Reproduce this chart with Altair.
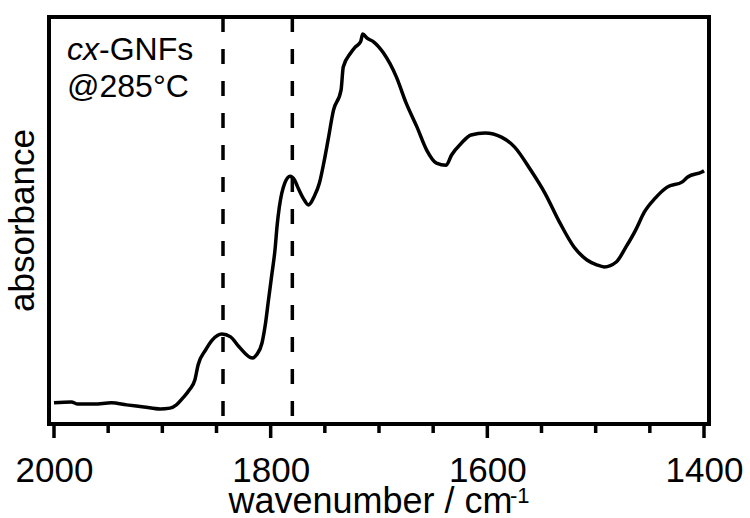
import altair as alt
import pandas as pd

# ---- data ----
wavenumber = [2000, 1984, 1978, 1963, 1947, 1933, 1917, 1902, 1893, 1887, 1881, 1875,
              1870, 1867, 1860, 1854, 1845, 1837, 1829, 1817, 1813, 1808, 1805, 1802,
              1799, 1796, 1794, 1792, 1787, 1782, 1778, 1775, 1770, 1765, 1763, 1760,
              1755, 1751, 1747, 1742, 1735, 1733, 1726, 1722, 1717, 1715, 1711, 1705,
              1696, 1684, 1675, 1665, 1656, 1647, 1638, 1633, 1624, 1615, 1602, 1587,
              1575, 1560, 1547, 1533, 1520, 1508, 1499, 1492, 1481, 1472, 1463, 1455,
              1445, 1434, 1420, 1415, 1402, 1400]
absorbance = [0.052, 0.054, 0.049, 0.049, 0.052, 0.047, 0.042, 0.037, 0.039, 0.047, 0.064, 0.084,
              0.108, 0.145, 0.182, 0.206, 0.221, 0.214, 0.189, 0.162, 0.170, 0.199, 0.243, 0.305,
              0.366, 0.428, 0.489, 0.533, 0.592, 0.609, 0.600, 0.582, 0.555, 0.538, 0.543, 0.558,
              0.592, 0.641, 0.698, 0.771, 0.821, 0.877, 0.912, 0.926, 0.939, 0.958, 0.948, 0.939,
              0.912, 0.853, 0.789, 0.730, 0.673, 0.641, 0.636, 0.661, 0.690, 0.710, 0.715, 0.705,
              0.681, 0.624, 0.568, 0.494, 0.435, 0.403, 0.391, 0.386, 0.398, 0.435, 0.477, 0.521,
              0.555, 0.582, 0.595, 0.607, 0.619, 0.622]
marker_lines = [1844, 1780]
major_ticks = [2000, 1800, 1600, 1400]
minor_ticks = [1950, 1900, 1850, 1750, 1700, 1650, 1550, 1500, 1450]
x_range = [2000, 1400]
y_range = [0, 1]
label_italic = ["cx"]
label_rest = ["-GNFs"]
label_temp = ["@285°C"]
x_title = "wavenumber / cm"
x_title_sup = ["-1"]
y_title = "absorbance"

FONT = "Liberation Sans"
W = 660          # plot width
H = 407          # plot height

spec = pd.DataFrame({"wn": wavenumber, "abs": absorbance})
xscale = alt.Scale(domain=x_range, nice=False, zero=False)
yscale = alt.Scale(domain=y_range, nice=False, zero=False)

major_axis = alt.Axis(values=major_ticks, format="d", orient="bottom", domain=False, grid=False,
                      ticks=False,
                      labelFont=FONT, labelFontSize=35, labelColor="black", labelPadding=29,
                      labelFlush=False,
                      title=x_title, titleFont=FONT, titleFontSize=36, titleFontWeight="normal",
                      titleColor="black", titleX=179, titleY=88, titleAlign="left",
                      titleBaseline="alphabetic", titleAnchor="start")

line = alt.Chart(spec).mark_line(color="black", strokeWidth=3.5, interpolate="monotone").encode(
    x=alt.X("wn:Q", scale=xscale, axis=major_axis),
    y=alt.Y("abs:Q", scale=yscale,
            axis=alt.Axis(ticks=False, labels=False, domain=False, grid=False,
                          title=y_title, titleFont=FONT, titleFontSize=35,
                          titleFontWeight="normal", titleColor="black",
                          titleAngle=270, titleBaseline="alphabetic", titleAlign="center",
                          titleX=-16, titleY=203)),
)

rules = alt.Chart(pd.DataFrame({"wn": marker_lines})).mark_rule(
    color="black", strokeWidth=3.5, strokeDash=[15, 17]
).encode(
    x=alt.X("wn:Q", scale=xscale),
    y=alt.value(0),
    y2=alt.value(H),
)

# outward ticks as thin bars (rects) hanging below the frame
tick_df = pd.DataFrame({
    "x": major_ticks + minor_ticks,
    "kind": ["major"] * len(major_ticks) + ["minor"] * len(minor_ticks),
})
major_bars = alt.Chart(tick_df).transform_filter("datum.kind == 'major'").mark_bar(
    color="black", width=3.5, clip=False
).encode(x=alt.X("x:Q", scale=xscale), y=alt.value(H), y2=alt.value(H + 14))
minor_bars = alt.Chart(tick_df).transform_filter("datum.kind == 'minor'").mark_bar(
    color="black", width=3.5, clip=False
).encode(x=alt.X("x:Q", scale=xscale), y=alt.value(H), y2=alt.value(H + 9))

t1 = alt.Chart(pd.DataFrame({"t": label_italic})).mark_text(
    align="left", baseline="alphabetic", font=FONT, fontSize=32, fontStyle="italic", color="black"
).encode(x=alt.value(18), y=alt.value(43), text="t:N")
t2 = alt.Chart(pd.DataFrame({"t": label_rest})).mark_text(
    align="left", baseline="alphabetic", font=FONT, fontSize=32, color="black"
).encode(x=alt.value(50), y=alt.value(43), text="t:N")
t3 = alt.Chart(pd.DataFrame({"t": label_temp})).mark_text(
    align="left", baseline="alphabetic", font=FONT, fontSize=32, color="black"
).encode(x=alt.value(18), y=alt.value(80), text="t:N")
sup = alt.Chart(pd.DataFrame({"t": x_title_sup})).mark_text(
    align="left", baseline="alphabetic", font=FONT, fontSize=22, color="black"
).encode(x=alt.value(461), y=alt.value(486), text="t:N")

chart = alt.layer(line, rules, major_bars, minor_bars, t1, t2, t3, sup).properties(
    width=W, height=H,
    autosize=alt.AutoSizeParams(type="none"),
    padding={"left": 49, "top": 17, "right": 41, "bottom": 94},
    background="white",
).configure_view(stroke="black", strokeWidth=4)

chart.save("out.html", embed_options={"renderer": "svg", "actions": False})
